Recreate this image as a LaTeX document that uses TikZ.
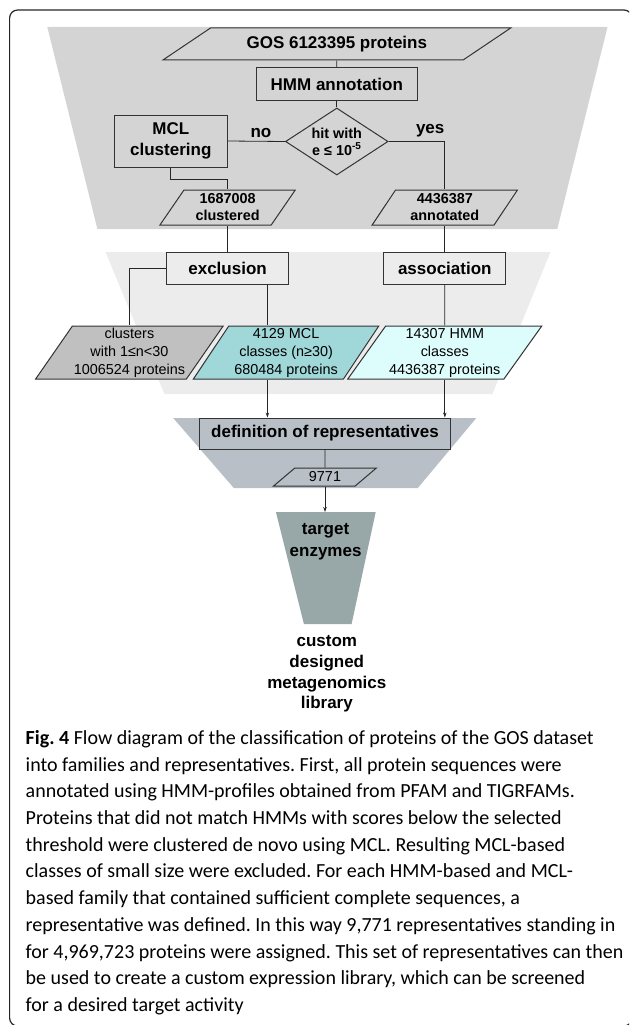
\documentclass[tikz,border=0pt]{standalone}
\usepackage{fontspec}
\setmainfont{Liberation Sans}
\newfontfamily\capfont{Carlito}
\usetikzlibrary{shapes.geometric,arrows.meta}
\definecolor{bandA}{HTML}{D4D4D4}
\definecolor{bandB}{HTML}{ECECEC}
\definecolor{bandC}{HTML}{B8BFC6}
\definecolor{tgtgray}{HTML}{98A8A8}
\definecolor{smallgray}{HTML}{C0C0C0}
\definecolor{mclteal}{HTML}{A0D8DA}
\definecolor{hmmcyan}{HTML}{DDFCFC}
\tikzset{
  big/.style={font=\bfseries\fontsize{17}{21}\selectfont},
  small/.style={font=\bfseries\fontsize{14.4}{17}\selectfont},
  plain/.style={font=\fontsize{14.4}{18}\selectfont},
  box/.style={draw=black!80, line width=1pt, align=center, inner sep=0pt, big},
  para/.style={trapezium, trapezium stretches=true, draw=black!80, line width=1pt,
    align=center, inner sep=0pt},
}
\begin{document}
\begin{tikzpicture}[x=1pt, y=-1pt, line width=0.8pt, >={Stealth[length=5pt,width=3.5pt]}]
  \useasboundingbox (0,0) rectangle (629,1025);
  \begin{scope}
    \clip (0,0) rectangle (629,1025);
    \draw[line width=1.2pt, black!85, rounded corners=8pt] (9.6,10) rectangle (632,1026);
  \end{scope}
  \fill[bandA] (47.3,27) -- (607.5,27) -- (557.3,229) -- (97.4,229) -- cycle;
  \fill[bandB] (105.5,252) -- (550.5,252) -- (492.4,394) -- (164.4,394) -- cycle;
  \fill[bandC] (173.2,418) -- (476.3,418) -- (417.8,488) -- (233.8,488) -- cycle;
  \fill[tgtgray] (275.9,512) -- (375.7,512) -- (351.6,624) -- (303.9,624) -- cycle;

  \node[para, big, trapezium left angle=25, trapezium right angle=155,
    minimum width=348.8, minimum height=32] (gos) at (336.8,44) {GOS 6123395 proteins};
  \node[box, minimum width=160.4, minimum height=32] (hmm) at (336.8,84) {HMM annotation};
  \node[diamond, draw=black!80, line width=1pt, small, align=center, aspect=1.53,
    inner sep=0pt, minimum width=102.6, minimum height=67] (hit) at (336.8,141.5)
    {hit with\\e ≤ 10\textsuperscript{-5}};
  \node[box, minimum width=113, minimum height=52] (mcl) at (170.8,141) {MCL\\clustering};
  \node[para, small, trapezium left angle=57, trapezium right angle=123,
    minimum width=136.3, minimum height=35] (clst) at (227.6,207.5) {1687008\\clustered};
  \node[para, small, trapezium left angle=59, trapezium right angle=121,
    minimum width=145.5, minimum height=35] (annot) at (444.8,207.5) {4436387\\annotated};
  \node[box, minimum width=122.3, minimum height=32] (excl) at (227.6,268) {exclusion};
  \node[box, minimum width=122.3, minimum height=32] (assoc) at (444.8,268) {association};
  \node[para, plain, fill=smallgray, trapezium left angle=54, trapezium right angle=126,
    minimum width=188, minimum height=53] (clus) at (129.4,352.5)
    {clusters\\with 1≤n<30\\1006524 proteins};
  \node[para, plain, fill=mclteal, trapezium left angle=57, trapezium right angle=123,
    minimum width=185.6, minimum height=53] (mclc) at (286.1,352.5)
    {4129 MCL\\classes (n≥30)\\680484 proteins};
  \node[para, plain, fill=hmmcyan, trapezium left angle=54, trapezium right angle=126,
    minimum width=194.5, minimum height=53] (hmmc) at (444.8,352.5)
    {14307 HMM\\classes\\4436387 proteins};
  \node[box, minimum width=250.2, minimum height=31] (def) at (325,433.5)
    {definition of representatives};
  \node[para, plain, trapezium left angle=42, trapezium right angle=138,
    minimum width=103.4, minimum height=18] (rep) at (325,477) {9771};
  \coordinate (tgt) at (325,512);
  \node[align=center, font=\bfseries\fontsize{17}{22}\selectfont] (tgttext) at (325.6,542)
    {target\\enzymes};
  \node[align=center, font=\bfseries\fontsize{17}{20.7}\selectfont] (lib) at (326.8,674)
    {custom\\designed\\metagenomics\\library};
  \coordinate (xcol) at (267.4,0);

  \begin{scope}[black!85]
    \draw (gos) to (hmm);
    \draw (hmm) to (hit);
    \draw (hit.west) -- node[pos=0.42, above=0pt, big, black] (no) {no} (mcl.east);
    \draw (hit.east) -| node[pos=0.37, above=1pt, big, black] (yes) {yes} (annot.north);
    \draw (mcl.south) -- ++(0,12) -| (clst.north);
    \draw (clst) to (excl);
    \draw (annot) to (assoc);
    \draw (excl.west) -| (clus.north);
    \draw (excl.south -| xcol) -- (mclc.north -| xcol);
    \draw (assoc) to (hmmc);
    \draw[->] (mclc.south -| xcol) -- (def.north -| xcol);
    \draw[->] (hmmc.south) -- (hmmc.south |- def.north);
    \draw (def) to (rep);
    \draw[->] (rep) to (tgt);
  \end{scope}

  \node[anchor=north west, align=left, inner sep=0pt,
    font=\capfont\fontsize{20}{26.7}\selectfont\frenchspacing] (cap) at (25.3,730)
    {\textbf{Fig. 4} Flow diagram of the classification of proteins of the GOS dataset\\
     into families and representatives. First, all protein sequences were\\
     annotated using HMM-profiles obtained from PFAM and TIGRFAMs.\\
     Proteins that did not match HMMs with scores below the selected\\
     threshold were clustered de novo using MCL. Resulting MCL-based\\
     classes of small size were excluded. For each HMM-based and MCL-\\
     based family that contained sufficient complete sequences, a\\
     representative was defined. In this way 9,771 representatives standing in\\
     for 4,969,723 proteins were assigned. This set of representatives can then\\
     be used to create a custom expression library, which can be screened\\
     for a desired target activity};
\end{tikzpicture}
\end{document}
